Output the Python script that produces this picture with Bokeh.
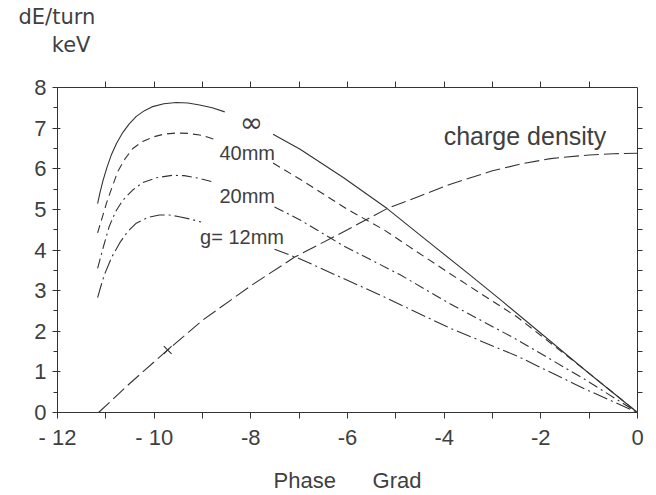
from bokeh.plotting import figure
from bokeh.models import Range1d, LinearAxis, FixedTicker, Label, Title
from bokeh.embed import file_html
from bokeh.resources import INLINE

nan = float("nan")

# g = infinity (solid); NaN marks the gap around the label
inf_phase = [-11.17, -11.12, -11.06, -10.98, -10.89, -10.78, -10.65, -10.52, -10.37, -10.20,
             -10.03, -9.80, -9.54, -9.30, -9.06, -8.80, -8.54, nan,
             -7.54, -6.98, -6.08, -5.18, -4.22, -3.5, -2.8, -2.0, -1.0, 0.0]
inf_de = [5.14, 5.42, 5.70, 6.02, 6.33, 6.62, 6.89, 7.10, 7.29, 7.43,
          7.53, 7.60, 7.63, 7.62, 7.57, 7.50, 7.40, nan,
          6.85, 6.48, 5.78, 5.02, 4.10, 3.42, 2.74, 1.95, 0.96, 0.0]

# g = 40 mm (dashed)
g40_phase = [-11.17, -11.08, -10.99, -10.87, -10.75, -10.60, -10.44, -10.24, -10.03, -9.80,
             -9.54, -9.30, -9.06, -8.90, -8.75, nan,
             -7.54, -6.98, -6.0, -5.25, -4.77, -3.87, -2.49, -1.11, 0.0]
g40_de = [4.42, 4.78, 5.14, 5.55, 5.94, 6.25, 6.50, 6.67, 6.78, 6.85,
          6.88, 6.87, 6.83, 6.78, 6.72, nan,
          6.14, 5.74, 5.0, 4.5, 4.12, 3.41, 2.35, 1.07, 0.0]

# g = 20 mm (dash-dot)
g20_phase = [-11.17, -11.05, -10.93, -10.80, -10.65, -10.45, -10.24, -9.95, -9.62, -9.38,
             -9.13, -8.79, nan,
             -7.51, -6.98, -6.36, -6.08, -4.91, -3.87, -2.49, -1.80, -1.11, 0.0]
g20_de = [3.55, 4.08, 4.58, 4.94, 5.22, 5.47, 5.66, 5.78, 5.84, 5.83,
          5.78, 5.68, nan,
          5.06, 4.74, 4.30, 4.10, 3.39, 2.67, 1.79, 1.31, 0.83, 0.0]

# g = 12 mm (long dash-dot)
g12_phase = [-11.17, -11.10, -11.03, -10.88, -10.71, -10.55, -10.37, -10.13, -9.89, -9.68,
             -9.48, -9.25, -9.03, nan,
             -7.51, -6.98, -5.25, -3.87, -2.49, -1.80, -1.11, 0.0]
g12_de = [2.83, 3.12, 3.39, 3.82, 4.18, 4.45, 4.66, 4.80, 4.86, 4.86,
          4.82, 4.76, 4.69, nan,
          4.02, 3.78, 2.85, 2.07, 1.39, 0.99, 0.59, 0.0]

# charge density (long dashes)
cd_phase = [-11.15, -10.5, -9.72, -9.0, -8.0, -7.1, -6.0, -5.18, -4.5, -3.87, -3.0, -2.4,
            -1.8, -1.0, -0.5, 0.0]
cd_val = [0.0, 0.72, 1.54, 2.27, 3.12, 3.82, 4.5, 5.02, 5.33, 5.62, 5.95, 6.12,
          6.25, 6.34, 6.37, 6.38]

mark_phase = [-9.72]
mark_val = [1.54]

x_major = [-12, -10, -8, -6, -4, -2, 0]
x_minor = [-11, -9, -7, -5, -3, -1]
x_labels = {-12: "- 12", -10: "- 10", -8: "-8", -6: "-6", -4: "-4", -2: "-2", 0: "0"}
y_major = [0, 1, 2, 3, 4, 5, 6, 7, 8]
y_minor = [0.5, 1.5, 2.5, 3.5, 4.5, 5.5, 6.5, 7.5]
y_half = [0.5 * i for i in range(1, 16)]

INK = "#333333"
TXT = "#3f3f3f"
FONT = "Liberation Sans"

p = figure(width=656, height=495, x_range=Range1d(-12, 0), y_range=Range1d(0, 8),
           output_backend="svg", toolbar_location=None,
           min_border_left=57, min_border_right=19, min_border_top=87, min_border_bottom=74)
p.outline_line_color = None
p.xgrid.visible = False
p.ygrid.visible = False
p.background_fill_color = "white"
p.border_fill_color = "white"

xa = p.xaxis[0]
xa.ticker = FixedTicker(ticks=x_major, minor_ticks=x_minor)
xa.major_label_overrides = x_labels
xa.axis_line_color = INK
xa.major_tick_line_color = INK
xa.minor_tick_line_color = INK
xa.major_tick_out = 6
xa.major_tick_in = 0
xa.minor_tick_out = 6
xa.minor_tick_in = 0
xa.major_label_standoff = 6
xa.major_label_text_font = FONT
xa.major_label_text_font_size = "22px"
xa.major_label_text_color = TXT
xa.axis_label = "Phase\u00a0\u00a0\u00a0\u00a0\u00a0\u00a0Grad"
xa.axis_label_text_font = FONT
xa.axis_label_text_font_size = "22px"
xa.axis_label_text_font_style = "normal"
xa.axis_label_text_color = TXT
xa.axis_label_standoff = 15

ya = p.yaxis[0]
ya.ticker = FixedTicker(ticks=y_major, minor_ticks=y_minor)
ya.axis_line_color = INK
ya.major_tick_line_color = INK
ya.minor_tick_line_color = INK
ya.major_tick_out = 5
ya.major_tick_in = 3
ya.minor_tick_out = 4
ya.minor_tick_in = 0
ya.major_label_standoff = 6
ya.major_label_text_font = FONT
ya.major_label_text_font_size = "22px"
ya.major_label_text_color = TXT

# top frame axis carries the unit "keV" of the y quantity
top = LinearAxis(ticker=FixedTicker(ticks=[], minor_ticks=x_major[1:-1] + x_minor))
top.axis_line_color = INK
top.minor_tick_line_color = INK
top.minor_tick_out = 6
top.minor_tick_in = 0
top.major_tick_out = 0
top.major_label_standoff = 0
top.axis_label = "\u2003\u2009\u200akeV"
top.axis_label_align = "start"
top.axis_label_standoff = 25
top.axis_label_text_font = "DejaVu Sans"
top.axis_label_text_font_size = "21px"
top.axis_label_text_font_style = "normal"
top.axis_label_text_color = TXT
p.add_layout(top, "above")

p.add_layout(Title(text="dE/turn", align="left", offset=-39, text_font="DejaVu Sans",
                   text_font_size="21px", text_font_style="normal", text_color=TXT,
                   standoff=2), "above")

right = LinearAxis(ticker=FixedTicker(ticks=[], minor_ticks=y_half))
right.axis_line_color = INK
right.minor_tick_line_color = INK
right.minor_tick_out = 5
right.minor_tick_in = 0
right.major_tick_out = 0
p.add_layout(right, "right")

lw = 1.1
p.line(inf_phase, inf_de, line_color=INK, line_width=lw)
p.line(g40_phase, g40_de, line_color=INK, line_width=lw, line_dash="8 5")
p.line(g20_phase, g20_de, line_color=INK, line_width=lw, line_dash="10 4 2 4")
p.line(g12_phase, g12_de, line_color=INK, line_width=lw, line_dash="15 4 2 4")
p.line(cd_phase, cd_val, line_color=INK, line_width=lw, line_dash="15 5")
p.scatter(mark_phase, mark_val, marker="x", size=11, line_color=INK, line_width=lw)

def lab(x, y, t, size="20px", align="left", baseline="middle", font=FONT):
    p.add_layout(Label(x=x, y=y, text=t, text_font=font, text_font_size=size,
                       text_color=TXT, text_align=align, text_baseline=baseline))

lab(-7.99, 7.15, "\u221e", size="28px", align="center", font="DejaVu Sans")
lab(-8.65, 6.38, "40mm")
lab(-8.65, 5.32, "20mm")
lab(-9.05, 4.32, "g= 12mm")
lab(-4.01, 6.81, "charge density", size="25px")

open("out.html", "w").write(file_html(p, INLINE))
